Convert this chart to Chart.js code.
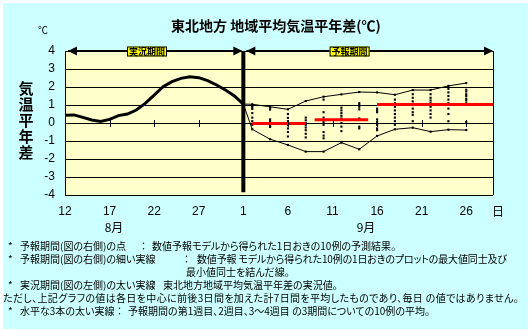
<!DOCTYPE html>
<html>
<head>
<meta charset="utf-8">
<script src="https://cdn.jsdelivr.net/npm/chart.js@4.4.1/dist/chart.umd.min.js"></script>
<style>
  body { margin: 0; background: #fff; width: 532px; height: 331px; overflow: hidden; }
  #panel { position: absolute; left: 3px; top: 3px; width: 525px; height: 326px; background: #ccffff; }
  #chart { position: absolute; left: 0; top: 0; }
  .note { position: absolute; font-family: "Noto Sans CJK JP", sans-serif; font-size: 10px; line-height: 12px;
          color: #000; white-space: pre; font-feature-settings: "palt"; }
</style>
</head>
<body>
<div id="panel"></div>
<canvas id="chart" width="532" height="240"></canvas>
<div class="note" style="left:8px;top:240px">*</div>
<div class="note" style="left:20px;top:240px">予報期間(図の右側)の点</div>
<div class="note" style="left:141px;top:240px">：</div>
<div class="note" style="left:152px;top:240px">数値予報モデルから得られた1日おきの10例の予測結果。</div>
<div class="note" style="left:8px;top:253px">*</div>
<div class="note" style="left:20px;top:253px">予報期間(図の右側)の細い実線</div>
<div class="note" style="left:184px;top:253px">：</div>
<div class="note" style="left:197px;top:253px;letter-spacing:-0.15px">数値予報 モデルから得られた10例の1日おきのプロットの最大値同士及び</div>
<div class="note" style="left:186px;top:266px">最小値同士を結んだ線。</div>
<div class="note" style="left:8px;top:279px">*</div>
<div class="note" style="left:20px;top:279px">実況期間(図の左側)の太い実線</div>
<div class="note" style="left:151px;top:279px">：</div>
<div class="note" style="left:163px;top:279px">東北地方地域平均気温平年差の実況値。</div>
<div class="note" style="left:3px;top:292px;letter-spacing:0.35px">ただし、上記グラフの値は各日を中心に前後3日間を加えた計7日間を平均したものであり、毎日 の値ではありません。</div>
<div class="note" style="left:8px;top:305px">*</div>
<div class="note" style="left:20px;top:305px">水平な3本の太い実線</div>
<div class="note" style="left:117px;top:305px">：</div>
<div class="note" style="left:128px;top:305px">予報期間の第1週目、2週目、3～4週目 の3期間についての10例の平均。</div>

<script>
// x categories: one per day, 8/12 .. 9/29
const dates = [
  '8/12','8/13','8/14','8/15','8/16','8/17','8/18','8/19','8/20','8/21',
  '8/22','8/23','8/24','8/25','8/26','8/27','8/28','8/29','8/30','8/31',
  '9/1','9/2','9/3','9/4','9/5','9/6','9/7','9/8','9/9','9/10',
  '9/11','9/12','9/13','9/14','9/15','9/16','9/17','9/18','9/19','9/20',
  '9/21','9/22','9/23','9/24','9/25','9/26','9/27','9/28','9/29'
];
const tickDates = ['8/12','8/17','8/22','8/27','9/1','9/6','9/11','9/16','9/21','9/26'];

// observed (7-day running mean), 8/12 .. 9/1
const obsValues = [0.43, 0.45, 0.31, 0.17, 0.08, 0.2, 0.41, 0.5, 0.72, 1.09,
                   1.55, 2.02, 2.3, 2.48, 2.57, 2.52, 2.35, 2.11, 1.83, 1.5, 1.05];

// forecast, every other day
const fcDates = ['9/2','9/4','9/6','9/8','9/10','9/12','9/14','9/16','9/18','9/20','9/22','9/24','9/26'];
const fcMax = [1.04, 0.9, 0.76, 1.22, 1.46, 1.59, 1.72, 1.7, 1.57, 1.83, 1.83, 2.06, 2.22];
const fcMin = [-0.35, -0.9, -1.22, -1.59, -1.59, -1.09, -1.46, -0.72, -0.35, -0.26, -0.48, -0.37, -0.39];
const fcMembers = [
  [1.04, 1.0, 0.95, 0.88, 0.78, 0.55, 0.3, 0.1, -0.1, -0.35],
  [0.9, 0.85, 0.75, 0.2, 0.1, 0.0, -0.05, -0.15, -0.22, -0.9],
  [0.76, 0.5, 0.28, 0.1, -0.05, -0.12, -0.3, -0.5, -0.75, -1.22],
  [1.22, 0.3, 0.15, 0.0, -0.1, -0.25, -0.4, -0.6, -0.8, -1.59],
  [1.46, 1.3, 0.6, 0.3, 0.05, -0.1, -0.5, -0.7, -0.85, -1.59],
  [1.59, 0.85, 0.7, 0.55, 0.4, 0.25, 0.0, -0.2, -0.45, -1.09],
  [1.72, 1.1, 1.0, 0.9, 0.76, 0.25, 0.2, -0.2, -0.3, -1.46],
  [1.7, 0.8, 0.7, 0.6, 0.2, 0.05, -0.1, -0.3, -0.4, -0.72],
  [1.57, 1.3, 1.1, 0.9, 0.7, 0.5, 0.3, 0.1, -0.1, -0.35],
  [1.83, 1.6, 1.4, 1.2, 1.0, 0.8, 0.6, 0.45, 0.1, -0.26],
  [1.83, 1.6, 1.4, 1.25, 1.1, 0.9, 0.7, 0.5, 0.3, -0.48],
  [2.06, 1.9, 1.7, 1.5, 1.3, 1.1, 0.8, 0.5, 0.1, -0.37],
  [2.22, 1.85, 1.75, 1.6, 1.5, 1.35, 1.25, 1.1, 0.05, -0.39]
];

// weekly means (week 1, week 2, weeks 3-4)
const weekStart = ['9/2', '9/9', '9/16'];
const weekEnd = ['9/8', '9/15', '9/29'];
const weekMean = [-0.03, 0.18, 1.03];

const lastObsDate = dates[obsValues.length - 1];
const lastObs = obsValues[obsValues.length - 1];

const memberPoints = [];
fcDates.forEach((d, i) => fcMembers[i].forEach(v => memberPoints.push({x: d, y: v})));

const weekSets = weekMean.map((m, i) => ({
  data: [{x: weekStart[i], y: m}, {x: weekEnd[i], y: m}],
  borderColor: '#ff0000', borderWidth: 3, pointRadius: 0
}));

const jp = '"Noto Sans CJK JP", sans-serif';

const decor = {
  id: 'decor',
  beforeDraw(chart) {
    const {ctx, chartArea: a} = chart;
    ctx.save();
    ctx.fillStyle = '#ffffcc';
    ctx.fillRect(a.left, a.top, a.right - a.left, a.bottom - a.top);
    ctx.restore();
  },
  afterDatasetsDraw(chart) {
    const {ctx, chartArea: a, scales: {x, y}} = chart;
    ctx.save();
    // zero-line tick marks
    const y0 = y.getPixelForValue(0);
    ctx.strokeStyle = '#000';
    ctx.lineWidth = 1;
    tickDates.forEach(d => {
      const i = dates.indexOf(d);
      if (i === 0) return;
      const px = Math.round(x.getPixelForValue(i)) + 0.5;
      ctx.beginPath(); ctx.moveTo(px, y0 - 3); ctx.lineTo(px, y0 + 4); ctx.stroke();
    });
    // right border
    ctx.beginPath(); ctx.moveTo(a.right + 0.5, a.top); ctx.lineTo(a.right + 0.5, a.bottom); ctx.stroke();
    // thick divider at last observed day
    const xd = x.getPixelForValue(dates.indexOf(lastObsDate));
    ctx.lineWidth = 4;
    ctx.beginPath(); ctx.moveTo(xd, a.top); ctx.lineTo(xd, y.getPixelForValue(-3.85)); ctx.stroke();

    // period arrows along the top
    const yt = a.top;
    const arrow = (tip, dir) => {
      ctx.beginPath();
      ctx.moveTo(tip, yt);
      ctx.lineTo(tip - dir * 9, yt - 4.5);
      ctx.lineTo(tip - dir * 9, yt + 4.5);
      ctx.closePath(); ctx.fill();
    };
    ctx.fillStyle = '#000';
    ctx.lineWidth = 2;
    ctx.beginPath(); ctx.moveTo(a.left + 3, yt); ctx.lineTo(xd - 2, yt); ctx.stroke();
    ctx.beginPath(); ctx.moveTo(xd + 3, yt); ctx.lineTo(a.right - 1, yt); ctx.stroke();
    arrow(a.left + 3, -1); arrow(xd - 1, 1);
    arrow(xd + 3, -1); arrow(a.right, 1);

    const tag = (cx, text) => {
      ctx.font = 'bold 9px ' + jp;
      const w = 40, h = 10;
      ctx.fillStyle = '#ffff00';
      ctx.fillRect(cx - w / 2, yt - 4.5, w, h);
      ctx.strokeStyle = '#000'; ctx.lineWidth = 1;
      ctx.strokeRect(cx - w / 2 + 0.5, yt - 4.5 + 0.5, w - 1, h - 1);
      ctx.fillStyle = '#000';
      ctx.textAlign = 'center'; ctx.textBaseline = 'middle';
      ctx.fillText(text, cx, yt + 0.8);
    };
    tag(a.left + (a.right - a.left) * 0.1916, '実況期間');
    tag(a.left + (a.right - a.left) * 0.665, '予報期間');
    ctx.restore();
  },
  afterDraw(chart) {
    const {ctx} = chart;
    ctx.save();
    ctx.fillStyle = '#000';
    ctx.textAlign = 'center'; ctx.textBaseline = 'middle';
    ctx.font = 'bold 14px ' + jp;
    ctx.fillText('東北地方 地域平均気温平年差(℃)', 276, 26);
    ctx.font = '10px ' + jp;
    ctx.fillText('℃', 43, 30);
    ctx.font = 'bold 15px ' + jp;
    ['気', '温', '平', '年', '差'].forEach((c, i) => ctx.fillText(c, 26, 88 + i * 16));
    ctx.font = '12px ' + jp;
    ctx.fillText('日', 498, 211);
    ctx.fillText('8月', 114, 227);
    ctx.fillText('9月', 366, 227);
    ctx.restore();
  }
};

new Chart(document.getElementById('chart'), {
  type: 'line',
  data: {
    labels: dates,
    datasets: [
      {data: obsValues, borderColor: '#000', borderWidth: 3, pointRadius: 0, tension: 0},
      ...weekSets,
      {data: [{x: lastObsDate, y: lastObs}, ...fcDates.map((d, i) => ({x: d, y: fcMax[i]}))],
       borderColor: '#000', borderWidth: 1, pointRadius: 0},
      {data: [{x: lastObsDate, y: lastObs}, ...fcDates.map((d, i) => ({x: d, y: fcMin[i]}))],
       borderColor: '#000', borderWidth: 1, pointRadius: 0},
      {data: memberPoints, showLine: false, pointStyle: 'rect', pointRadius: 1.5,
       pointBackgroundColor: '#000', pointBorderWidth: 0}
    ]
  },
  options: {
    responsive: false,
    animation: false,
    layout: {padding: {left: 0, right: 39, top: 51, bottom: 0}},
    plugins: {legend: {display: false}, tooltip: {enabled: false}},
    scales: {
      x: {
        type: 'category',
        offset: false,
        afterFit: s => { s.height = 45; },
        grid: {display: false, drawTicks: false},
        border: {display: false},
        ticks: {
          autoSkip: false, maxRotation: 0, padding: 9, color: '#000',
          font: {family: '"Liberation Sans", sans-serif', size: 12},
          callback: v => tickDates.includes(dates[v]) ? dates[v].split('/')[1] : null
        }
      },
      y: {
        min: -4, max: 4,
        afterFit: s => { s.width = 65; },
        grid: {color: '#000', lineWidth: 1, drawTicks: false},
        border: {color: '#000', width: 1},
        ticks: {stepSize: 1, padding: 10, color: '#000',
                font: {family: '"Liberation Sans", sans-serif', size: 12}}
      }
    }
  },
  plugins: [decor]
});
</script>
</body>
</html>
